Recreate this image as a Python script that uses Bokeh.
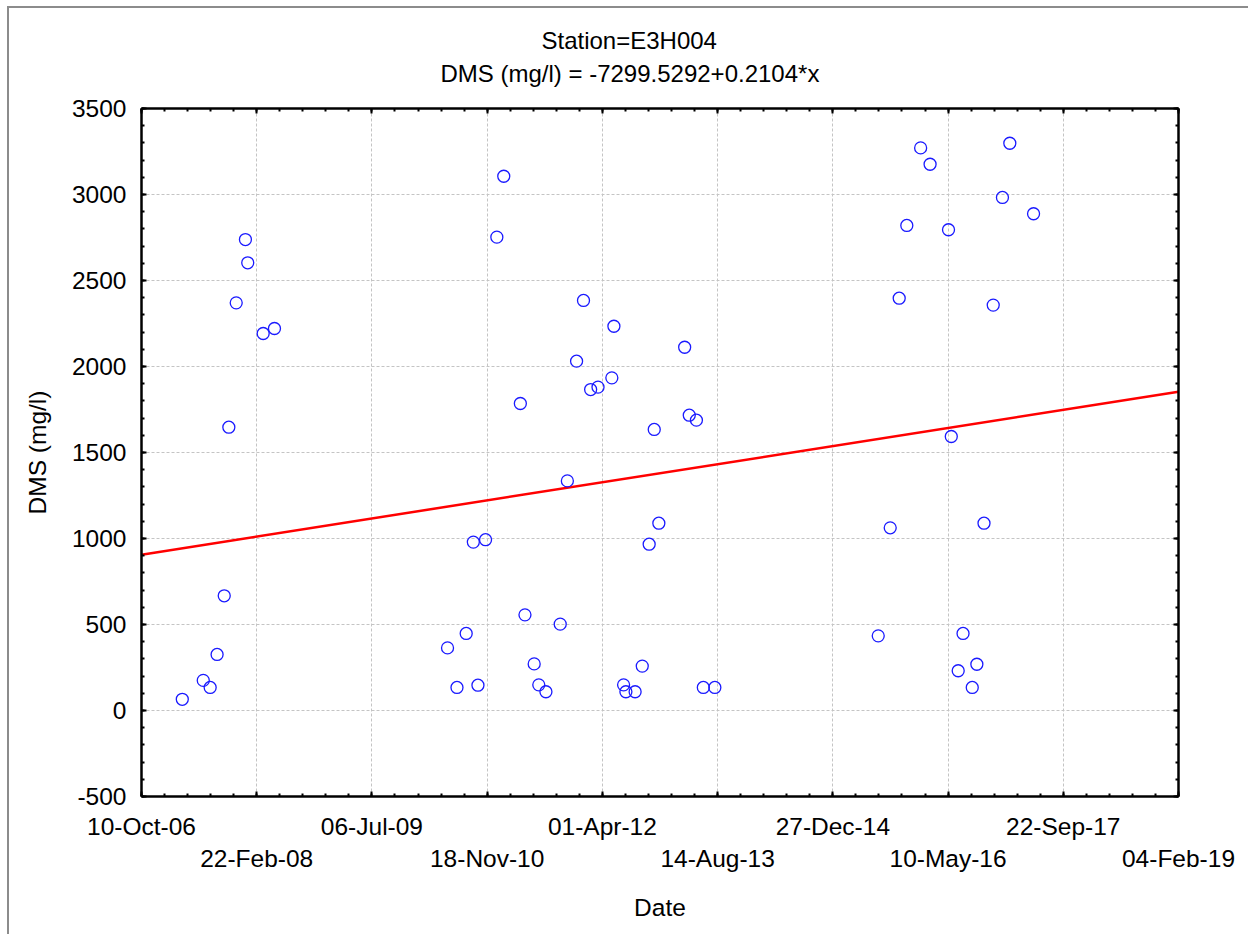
import pandas as pd
from bokeh.plotting import figure
from bokeh.models import FixedTicker, LinearAxis, Title, ColumnDataSource
from bokeh.embed import file_html
from bokeh.resources import INLINE

# --- data -------------------------------------------------------------------
station = "E3H004"
intercept = -7299.5292
slope = 0.2104

sample_dates = [
    "2007-04-05", "2007-07-05", "2007-08-04", "2007-09-03", "2007-10-04",
    "2007-10-24", "2007-11-25", "2008-01-04", "2008-01-14", "2008-03-21",
    "2008-05-09",
    "2010-05-30", "2010-07-10", "2010-08-19", "2010-09-19", "2010-10-09",
    "2010-11-11", "2010-12-30", "2011-01-29", "2011-04-11", "2011-05-01",
    "2011-06-10", "2011-06-30", "2011-07-31", "2011-10-01", "2011-11-01",
    "2011-12-11", "2012-01-10", "2012-02-10", "2012-03-13", "2012-05-12",
    "2012-05-21", "2012-07-02", "2012-07-12", "2012-08-21", "2012-09-21",
    "2012-10-21", "2012-11-12", "2012-12-02", "2013-03-24", "2013-04-13",
    "2013-05-14", "2013-06-13", "2013-08-02",
    "2015-07-12", "2015-09-02", "2015-10-11", "2015-11-13", "2016-01-12",
    "2016-02-22", "2016-05-12", "2016-05-24", "2016-06-23", "2016-07-14",
    "2016-08-23", "2016-09-12", "2016-10-13", "2016-11-22", "2017-01-01",
    "2017-02-02", "2017-05-16",
]
dms_values = [
    65, 175, 134, 326, 667,
    1647, 2370, 2738, 2603, 2192,
    2221,
    364, 134, 448, 979, 147,
    993, 2752, 3106, 1785, 556,
    271, 149, 109, 502, 1335,
    2031, 2384, 1866, 1880, 1934,
    2234, 149, 109, 109, 258,
    967, 1634, 1089, 2112, 1717,
    1688, 134, 134,
    434, 1062, 2397, 2820, 3271,
    3176, 2795, 1593, 231, 448,
    134, 269, 1089, 2357, 2983,
    3298, 2888,
]

# date axis works in spreadsheet day serials (days since 1899-12-30)
x_ticks = [39000, 39500, 40000, 40500, 41000, 41500, 42000, 42500, 43000, 43500]
x_tick_labels = ["10-Oct-06", "22-Feb-08", "06-Jul-09", "18-Nov-10", "01-Apr-12",
                 "14-Aug-13", "27-Dec-14", "10-May-16", "22-Sep-17", "04-Feb-19"]
y_ticks = [-500, 0, 500, 1000, 1500, 2000, 2500, 3000, 3500]
y_tick_labels = ["-500", "0", "500", "1000", "1500", "2000", "2500", "3000", "3500"]

EPOCH = pd.Timestamp("1899-12-30")
serials = [(pd.Timestamp(d) - EPOCH).days for d in sample_dates]

FONT = "Liberation Sans"
FS = "24.5px"

p = figure(
    frame_width=1037, frame_height=688,
    min_border_left=132, min_border_top=100,
    min_border_right=70, min_border_bottom=138,
    x_range=(x_ticks[0], x_ticks[-1]), y_range=(y_ticks[0], y_ticks[-1]),
    output_backend="svg", toolbar_location=None,
    background_fill_color="white", border_fill_color="white",
)
p.margin = (6, 0, 0, 7)
p.styles = {"border-left": "2px solid #8c8c8c", "border-top": "2px solid #8c8c8c"}
p.outline_line_color = None

x_minor = list(range(x_ticks[0], x_ticks[-1] + 1, 100))
y_minor = list(range(y_ticks[0], y_ticks[-1] + 1, 100))
xticker = FixedTicker(ticks=x_ticks, minor_ticks=x_minor)
yticker = FixedTicker(ticks=y_ticks, minor_ticks=y_minor)


def style_axis(ax, labels=True):
    ax.axis_line_color = "black"
    ax.axis_line_width = 2.5
    ax.major_tick_in = 5
    ax.major_tick_out = 0
    ax.minor_tick_in = 3
    ax.minor_tick_out = 0
    ax.major_tick_line_color = "black"
    ax.minor_tick_line_color = "black"
    ax.major_tick_line_width = 2
    ax.minor_tick_line_width = 2
    ax.major_label_text_font = FONT
    ax.axis_label_text_font = FONT
    ax.axis_label_text_font_style = "normal"
    ax.axis_label_text_font_size = FS
    ax.axis_label_text_color = "black"
    if labels:
        ax.major_label_text_font_size = FS
        ax.major_label_text_color = "black"
    else:
        # frame edge only: ticks without labels
        ax.major_label_text_font_size = "1px"
        ax.major_label_text_color = None
        ax.major_label_standoff = 0


xax = p.xaxis[0]
xax.ticker = xticker
style_axis(xax)
xax.major_label_standoff = 16
# alternate tick labels drop to a second row
xax.major_label_overrides = {
    t: (lab if i % 2 == 0 else "\n" + lab) for i, (t, lab) in enumerate(zip(x_ticks, x_tick_labels))
}
xax.axis_label = "Date"
xax.axis_label_standoff = 19

yax = p.yaxis[0]
yax.ticker = yticker
style_axis(yax)
yax.major_label_standoff = 15
yax.major_label_overrides = dict(zip(y_ticks, y_tick_labels))
yax.axis_label = "DMS (mg/l)"
yax.axis_label_standoff = 18

top_ax = LinearAxis(ticker=xticker)
style_axis(top_ax, labels=False)
p.add_layout(top_ax, "above")
right_ax = LinearAxis(ticker=yticker)
style_axis(right_ax, labels=False)
p.add_layout(right_ax, "right")

for g, t in ((p.xgrid, xticker), (p.ygrid, yticker)):
    g.ticker = t
    g.grid_line_color = "#c4c4c4"
    g.grid_line_dash = "3 2"
    g.grid_line_width = 1

# fitted trend from the stated coefficients
line_x = [x_ticks[0], x_ticks[-1]]
line_y = [intercept + slope * x for x in line_x]
p.line(line_x, line_y, line_color="#ff0000", line_width=2.5)

src = ColumnDataSource(dict(x=serials, y=dms_values))
p.scatter("x", "y", source=src, marker="circle", size=12,
          fill_color=None, line_color="#1a1aff", line_width=1.3)

# two title lines; standoffs set the gap to the frame and the line spacing
sub = f"DMS (mg/l) = {intercept:.4f}+{slope:.4f}*x"
p.add_layout(Title(text=sub, align="left", offset=299, text_font=FONT,
                   text_font_size="24px", text_font_style="normal",
                   text_color="black", standoff=44), "above")
p.add_layout(Title(text=f"Station={station}", align="left", offset=400,
                   text_font=FONT, text_font_size="24px", text_font_style="normal",
                   text_color="black", standoff=-37), "above")

open("out.html", "w").write(file_html(p, INLINE))
